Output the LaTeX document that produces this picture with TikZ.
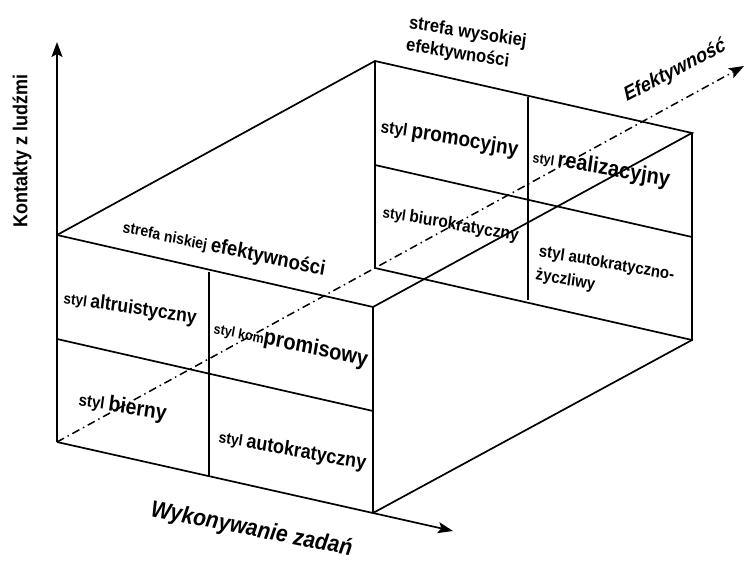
\documentclass[tikz,border=0pt]{standalone}
\usepackage{fontspec}
\setmainfont{Liberation Sans}
\usetikzlibrary{arrows.meta}
\newcommand{\sz}[1]{\fontsize{#1}{#1}\selectfont}

\begin{document}
\begin{tikzpicture}[
  x=1pt, y=-1pt,
  >={Stealth[length=15pt,width=11pt,inset=3pt]},
  edge/.style={line width=1.7pt},
  axis/.style={line width=1.7pt, ->},
  depth/.style={line width=1.5pt, ->, dash pattern=on 8pt off 4pt on 1.5pt off 4pt},
  lbl/.style={anchor=base west, inner sep=0pt, font=\bfseries, yscale=1.12},
  lbltwo/.style={anchor=north west, inner sep=0pt, align=left, yscale=1.12}
]
  \useasboundingbox (0,0) rectangle (746,561);

  % corners of the box
  \coordinate (O)   at (57,442);
  \coordinate (Ftl) at (57,235);
  \coordinate (Ftr) at (373,307);
  \coordinate (Fbr) at (373,513);
  \coordinate (Btl) at (375,61);
  \coordinate (Btr) at (692,133);
  \coordinate (Bbl) at (375,268);
  \coordinate (Bbr) at (692,340);
  % dividing lines
  \coordinate (Fmt) at (209,272);
  \coordinate (Fmb) at (209,477);
  \coordinate (Fml) at (57,339);
  \coordinate (Fmr) at (373,411);
  \coordinate (Bmt) at (528,97);
  \coordinate (Bmb) at (528,300);
  \coordinate (Bml) at (375,165);
  \coordinate (Bmr) at (692,237);
  % axis ends
  \coordinate (Ytip) at (57,42);
  \coordinate (Xtip) at (453,531);
  \coordinate (Ztip) at (744,66);

  \draw[axis] (O) -- (Ytip);
  \draw[axis] (O) -- (Xtip);
  \draw[depth] (O) -- (Ztip);

  \draw[edge] (Ftl) -- (Ftr) -- (Fbr);
  \draw[edge] (Ftl) -- (Btl) -- (Btr) -- (Ftr);
  \draw[edge] (Btl) -- (Bbl) -- (Bbr) -- (Btr);
  \draw[edge] (Fbr) -- (Bbr);
  \draw[edge] (Fmt) -- (Fmb);
  \draw[edge] (Fml) -- (Fmr);
  \draw[edge] (Bmt) -- (Bmb);
  \draw[edge] (Bml) -- (Bmr);

  % axis labels
  \node[rotate=90, inner sep=0pt, yscale=1.12, font=\bfseries\sz{18}] (kontakty) at (22,151) {Kontakty z ludźmi};
  \node[lbl, rotate=-10, font=\bfseries\itshape\sz{21}] (zadania) at (150,516) {Wykonywanie zadań};
  \node[lbl, rotate=25, font=\bfseries\itshape\sz{18}] (efekt) at (627,102) {Efektywność};

  % zones
  \node[lbltwo, rotate=-8, font=\bfseries\fontsize{16.5}{20}\selectfont] (wysoka) at (410,15) {strefa wysokiej\\efektywności};
  \node[lbl, rotate=-11] (niska) at (122,232) {\sz{14}strefa niskiej \sz{18.5}efektywności};

  % front face
  \node[lbl, rotate=-8] (altru) at (63,303) {\sz{13.5}styl \sz{17.5}altruistyczny};
  \node[lbl, rotate=-11] (kompr) at (213,333) {\sz{12.5}styl kom\sz{20}promisowy};
  \node[lbl, rotate=-9] (bierny) at (78,405) {\sz{15}styl \sz{19.5}bierny};
  \node[lbl, rotate=-9.5] (autok) at (218,442) {\sz{14}styl \sz{18}autokratyczny};

  % back face
  \node[lbl, rotate=-9] (promo) at (380,132) {\sz{15.5}styl \sz{19}promocyjny};
  \node[lbl, rotate=-9] (reali) at (532,162) {\sz{12.5}styl \sz{20}realizacyjny};
  \node[lbl, rotate=-9] (biuro) at (382,217) {\sz{13.5}styl \sz{15.5}biurokratyczny};
  \node[lbltwo, rotate=-9, font=\bfseries\fontsize{15}{21}\selectfont] (zycz) at (540,244) {styl autokratyczno-\\życzliwy};
\end{tikzpicture}
\end{document}
